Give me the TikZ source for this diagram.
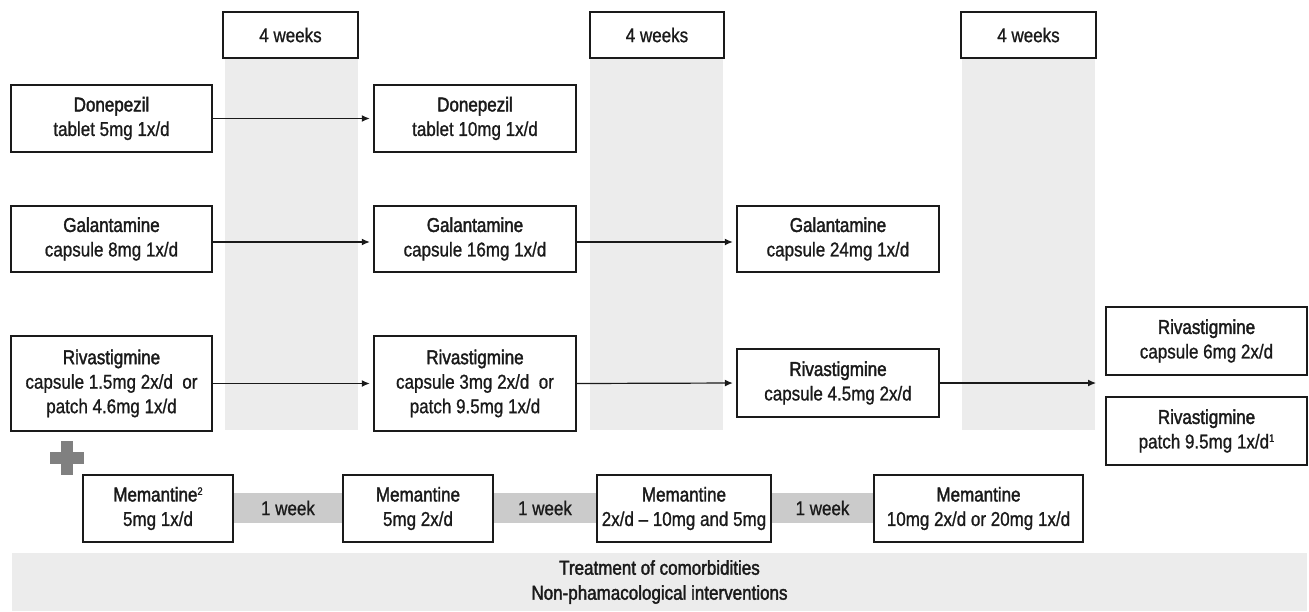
\documentclass[tikz,border=0pt]{standalone}
\usepackage{fontspec}
\setmainfont[FakeStretch=0.85,FakeBold=0.9]{Liberation Sans}
\newfontfamily\headfont[FakeStretch=0.85,FakeBold=1.8]{Liberation Sans}
\usetikzlibrary{arrows.meta}
\definecolor{txt}{HTML}{1A1A1A}
\definecolor{colgray}{HTML}{ECECEC}
\definecolor{weekgray}{HTML}{CBCBCB}
\definecolor{plusgray}{HTML}{808080}
\newcommand\hd[1]{{\headfont #1}}
\newcommand\sups[1]{{\fontsize{11}{11}\selectfont\raisebox{6.5pt}{#1}}}
\begin{document}
\begin{tikzpicture}[x=1pt,y=-1pt,
  drug/.style={draw=txt, line width=2.4pt, fill=white, align=center, inner sep=0pt,
    font=\fontsize{20}{24.5}\selectfont, text=txt},
  weekband/.style={fill=weekgray, inner sep=0pt, minimum height=30,
    font=\fontsize{20}{24}\selectfont, text=txt},
  column/.style={fill=colgray},
  arr/.style={draw=txt, line width=1.2pt, -{Latex[length=8pt,width=7pt]}, shorten >=3pt}
]
\useasboundingbox (0,0) rectangle (1309,611);
% grey 4-week columns
\fill[column] (225,58) rectangle (358,430);
\fill[column] (590,58) rectangle (723,430);
\fill[column] (962,58) rectangle (1095,430);
% 4 weeks labels
\node[drug, minimum width=135, minimum height=46] (wk4a) at (290.5,35) {4 weeks};
\node[drug, minimum width=134, minimum height=46] (wk4b) at (657,35) {4 weeks};
\node[drug, minimum width=135, minimum height=46] (wk4c) at (1028.5,35) {4 weeks};
% Donepezil
\node[drug, minimum width=201, minimum height=67] (don1) at (111.5,118.5) {\hd{Donepezil}\\tablet 5mg 1x/d};
\node[drug, minimum width=202, minimum height=67] (don2) at (475,118.5) {\hd{Donepezil}\\tablet 10mg 1x/d};
% Galantamine
\node[drug, minimum width=201, minimum height=66] (gal1) at (111.5,239) {\hd{Galantamine}\\capsule 8mg 1x/d};
\node[drug, minimum width=202, minimum height=66] (gal2) at (475,239) {\hd{Galantamine}\\capsule 16mg 1x/d};
\node[drug, minimum width=202, minimum height=66] (gal3) at (838,239) {\hd{Galantamine}\\capsule 24mg 1x/d};
% Rivastigmine
\node[drug, minimum width=201, minimum height=95] (riv1) at (111.5,383.5) {\hd{Rivastigmine}\\capsule 1.5mg 2x/d~ or\\patch 4.6mg 1x/d};
\node[drug, minimum width=202, minimum height=95] (riv2) at (475,383.5) {\hd{Rivastigmine}\\capsule 3mg 2x/d~ or\\patch 9.5mg 1x/d};
\node[drug, minimum width=202, minimum height=68] (riv3) at (838,383) {\hd{Rivastigmine}\\capsule 4.5mg 2x/d};
\node[drug, minimum width=201, minimum height=68] (riv4a) at (1206.5,341) {\hd{Rivastigmine}\\capsule 6mg 2x/d};
\node[drug, minimum width=201, minimum height=68] (riv4b) at (1206.5,431) {\hd{Rivastigmine}\\patch 9.5mg 1x/d\sups{1}};
\coordinate (rivend) at (1099,383);
% arrows
\draw[arr] (don1.east) -- (don2.west);
\draw[arr] ([yshift=-3pt]gal1.east) -- ([yshift=-3pt]gal2.west);
\draw[arr] ([yshift=-3pt]gal2.east) -- ([yshift=-3pt]gal3.west);
\draw[arr] (riv1.east) -- (riv2.west);
\draw[arr] (riv2.east) -- (riv3.west);
\draw[arr] (riv3.east) -- (rivend);
% plus sign
\fill[plusgray] (50,452) rectangle (84,464);
\fill[plusgray] (61,441) rectangle (73,475);
% Memantine week bands
\node[weekband, minimum width=110] (wk1) at (288,508) {1 week};
\node[weekband, minimum width=104] (wk2) at (545,508) {1 week};
\node[weekband, minimum width=103] (wk3) at (822.5,508) {1 week};
% Memantine
\node[drug, minimum width=150, minimum height=67] (mem1) at (158,508.5) {\hd{Memantine}\sups{2}\\5mg 1x/d};
\node[drug, minimum width=150, minimum height=67] (mem2) at (418,508.5) {\hd{Memantine}\\5mg 2x/d};
\node[drug, minimum width=174, minimum height=67] (mem3) at (684,508.5) {\hd{Memantine}\\2x/d – 10mg and 5mg};
\node[drug, minimum width=209, minimum height=67] (mem4) at (978.5,508.5) {\hd{Memantine}\\10mg 2x/d or 20mg 1x/d};
% bottom band
\node[fill=colgray, inner sep=0pt, minimum width=1295, minimum height=58, align=center,
  font=\fontsize{20}{25}\selectfont, text=txt] (bottom) at (659.5,582)
  {\hd{Treatment of comorbidities}\\\hd{Non-phamacological interventions}};
\end{tikzpicture}
\end{document}
